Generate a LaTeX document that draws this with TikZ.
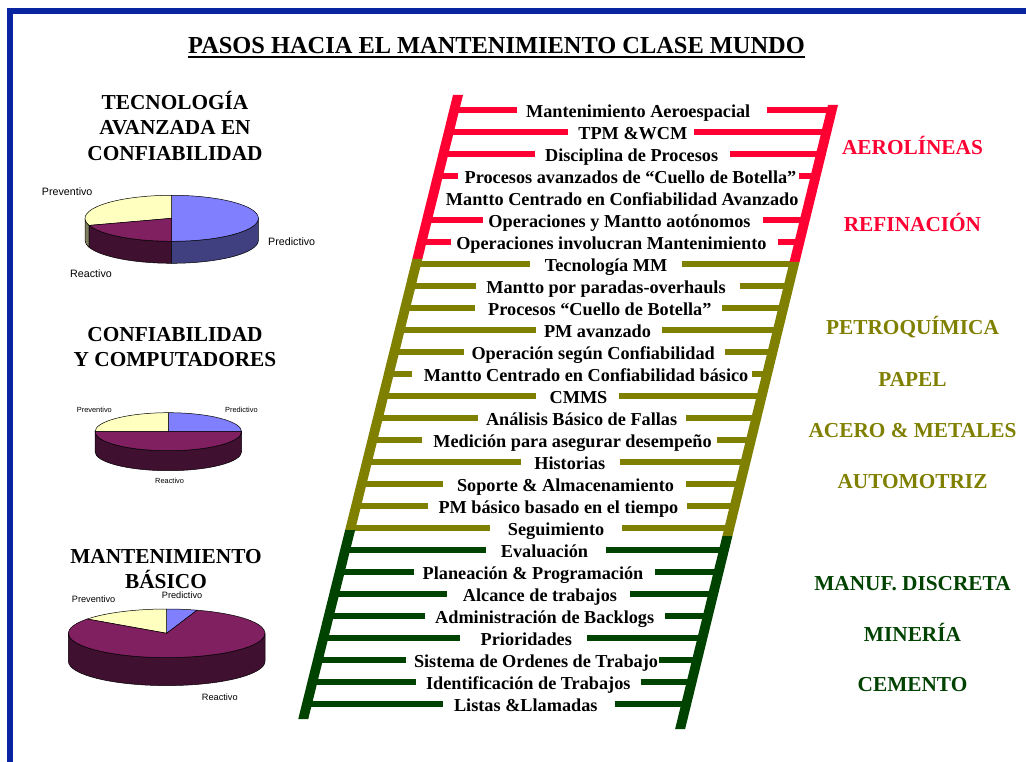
\documentclass[tikz,border=0pt]{standalone}
\usepackage{fontspec}
\setmainfont{Liberation Serif}
\newfontfamily\chartfont{Liberation Sans}

\definecolor{frameblue}{RGB}{8,36,160}
\definecolor{stepred}{RGB}{255,0,51}
\definecolor{stepolive}{RGB}{128,128,0}
\definecolor{stepgreen}{RGB}{0,66,0}
\definecolor{predtop}{RGB}{128,128,255}
\definecolor{predside}{RGB}{64,64,128}
\definecolor{reactop}{RGB}{128,32,96}
\definecolor{reacside}{RGB}{64,16,48}
\definecolor{prevtop}{RGB}{255,255,192}
\definecolor{prevside}{RGB}{128,128,96}

\tikzset{
  steplabel/.style={font=\fontsize{18.25}{20}\selectfont\bfseries, inner sep=0pt,
                    text height=15pt, text depth=0pt},
  rung/.style={line width=6.5pt},
  sector/.style={font=\fontsize{21.3}{24}\selectfont\bfseries, inner sep=0pt, anchor=base},
  heading/.style={font=\fontsize{21.3}{24}\selectfont\bfseries, inner sep=0pt, anchor=base},
  slice/.style={draw=black, line width=0.5pt, line join=round},
  pielabel/.style={inner sep=0pt, anchor=mid west},
}

% one rung label of the ladder (no rung)
\newcommand{\ladderlabel}[3]{%
  \pgfmathsetmacro{\rungy}{110+22*#1}%
  \node[steplabel] (s#1) at (#2,\rungy) {#3};%
}
% one rung: label plus the two rung pieces running out to the rails
\newcommand{\ladderstep}[6]{%
  \ladderlabel{#1}{#2}{#3}%
  \pgfmathsetmacro{\railleft}{458-0.248*(\rungy-95)}%
  \pgfmathsetmacro{\railright}{833-0.245*(\rungy-105)}%
  \coordinate (sl#1) at (\railleft,\rungy);%
  \coordinate (sr#1) at (\railright,\rungy);%
  \draw[rung,#6] (sl#1) -- ([xshift=-#4pt]s#1.west);%
  \draw[rung,#6] ([xshift=#5pt]s#1.east) -- (sr#1);%
}
% pie pieces: top sector and visible side wall
\newcommand{\pietop}[3]{%
  \filldraw[slice, fill=#3] (0,0) -- ({cos(#1)*\pierx},{sin(#1)*\piery})
    arc[start angle=#1, end angle=#2, x radius=\pierx, y radius=\piery] -- cycle;}
\newcommand{\pieside}[3]{%
  \filldraw[slice, fill=#3] ({cos(#1)*\pierx},{sin(#1)*\piery})
    arc[start angle=#1, end angle=#2, x radius=\pierx, y radius=\piery]
    -- ++(0pt,-\pied)
    arc[start angle=#2, end angle=#1, x radius=\pierx, y radius=\piery] -- cycle;}

\begin{document}
\begin{tikzpicture}[x=1pt, y=-1pt]
\useasboundingbox (0,0) rectangle (1026,762);
\fill[white] (0,0) rectangle (1026,762);

% frame
\fill[frameblue] (7.3,7.7) rectangle (1026,14);
\fill[frameblue] (7.3,7.7) rectangle (13.3,762);

% title
\node[font=\fontsize{24.4}{28}\selectfont\bfseries, inner sep=0pt, anchor=base]
  (title) at (496.5,53.3) {PASOS HACIA EL MANTENIMIENTO CLASE MUNDO};
\draw[line width=2.3pt] ([yshift=-3.9pt]title.base west) -- ([yshift=-3.9pt]title.base east);

% left headings
\node[heading] (h1a) at (175,109.5) {TECNOLOGÍA};
\node[heading] (h1b) at (175,135) {AVANZADA EN};
\node[heading] (h1c) at (175,160.5) {CONFIABILIDAD};
\node[heading] (h2a) at (175,341.7) {CONFIABILIDAD};
\node[heading] (h2b) at (175,366.7) {Y COMPUTADORES};
\node[heading] (h3a) at (166,563.3) {MANTENIMIENTO};
\node[heading] (h3b) at (166,588.3) {BÁSICO};

% pie 1
\begin{scope}[shift={(171.7,218.3)}]
  \def\pierx{86.7pt}\def\piery{23pt}\def\pied{22pt}
  \pieside{180}{198}{prevside}
  \pieside{198}{270}{reacside}
  \pieside{270}{360}{predside}
  \pietop{-90}{90}{predtop}
  \pietop{90}{198}{prevtop}
  \pietop{198}{270}{reactop}
\end{scope}
\node[pielabel, font=\chartfont\fontsize{10.7}{12}\selectfont] (p1prev) at (41.7,193) {Preventivo};
\node[pielabel, font=\chartfont\fontsize{10.7}{12}\selectfont] (p1pred) at (268,243) {Predictivo};
\node[pielabel, font=\chartfont\fontsize{10.7}{12}\selectfont] (p1reac) at (70,275) {Reactivo};

% pie 2
\begin{scope}[shift={(168.3,431.7)}]
  \def\pierx{73.3pt}\def\piery{19pt}\def\pied{20pt}
  \pieside{180}{360}{reacside}
  \pietop{0}{90}{predtop}
  \pietop{90}{180}{prevtop}
  \pietop{180}{360}{reactop}
\end{scope}
\node[pielabel, font=\chartfont\fontsize{7.4}{9}\selectfont] (p2prev) at (76.7,410) {Preventivo};
\node[pielabel, font=\chartfont\fontsize{7.4}{9}\selectfont] (p2pred) at (225,410) {Predictivo};
\node[pielabel, font=\chartfont\fontsize{7.4}{9}\selectfont] (p2reac) at (155,481.7) {Reactivo};

% pie 3
\begin{scope}[shift={(166.7,633.3)}]
  \def\pierx{98.3pt}\def\piery{24.3pt}\def\pied{28pt}
  \pieside{180}{360}{reacside}
  \pietop{72}{90}{predtop}
  \pietop{90}{144}{prevtop}
  \pietop{144}{432}{reactop}
\end{scope}
\node[pielabel, font=\chartfont\fontsize{9.2}{11}\selectfont] (p3prev) at (71.7,600) {Preventivo};
\node[pielabel, font=\chartfont\fontsize{9.2}{11}\selectfont] (p3pred) at (161.7,596.7) {Predictivo};
\node[pielabel, font=\chartfont\fontsize{9.2}{11}\selectfont] (p3reac) at (201.7,698) {Reactivo};

% ladder rungs and labels
\ladderstep{0}{638.2}{Mantenimiento Aeroespacial}{9}{16}{stepred}
\ladderstep{1}{632.9}{TPM \&WCM}{10}{6}{stepred}
\ladderstep{2}{631.6}{Disciplina de Procesos}{10}{12}{stepred}
\ladderstep{3}{630.5}{Procesos avanzados de “Cuello de Botella”}{6}{2}{stepred}
\ladderlabel{4}{622.2}{Mantto Centrado en Confiabilidad Avanzado}
\ladderstep{5}{619.5}{Operaciones y Mantto aotónomos}{5}{12.5}{stepred}
\ladderstep{6}{611.4}{Operaciones involucran Mantenimiento}{5}{11}{stepred}
\ladderstep{7}{606.1}{Tecnología MM}{15}{14}{stepolive}
\ladderstep{8}{606}{Mantto por paradas-overhauls}{10}{14}{stepolive}
\ladderstep{9}{599.8}{Procesos “Cuello de Botella”}{13}{10.6}{stepolive}
\ladderstep{10}{597.5}{PM avanzado}{8}{10.7}{stepolive}
\ladderstep{11}{593.2}{Operación según Confiabilidad}{7}{10}{stepolive}
\ladderstep{12}{586.1}{Mantto Centrado en Confiabilidad básico}{12}{3.5}{stepolive}
\ladderstep{13}{578.5}{CMMS}{13}{11}{stepolive}
\ladderstep{14}{581.6}{Análisis Básico de Fallas}{8}{9}{stepolive}
\ladderstep{15}{572.5}{Medición para asegurar desempeño}{11}{5}{stepolive}
\ladderstep{16}{569.8}{Historias}{13}{15}{stepolive}
\ladderstep{17}{565.5}{Soporte \& Almacenamiento}{13.5}{12}{stepolive}
\ladderstep{18}{558.4}{PM básico basado en el tiempo}{10.7}{8.6}{stepolive}
\ladderstep{19}{556.1}{Seguimiento}{18}{17.7}{stepolive}
\ladderstep{20}{544.5}{Evaluación}{15}{18}{stepgreen}
\ladderstep{21}{533}{Planeación \& Programación}{8}{11}{stepgreen}
\ladderstep{22}{540}{Alcance de trabajos}{16}{13}{stepgreen}
\ladderstep{23}{544.7}{Administración de Backlogs}{10}{11}{stepgreen}
\ladderstep{24}{526.3}{Prioridades}{20}{15}{stepgreen}
\ladderstep{25}{536}{Sistema de Ordenes de Trabajo}{8}{1}{stepgreen}
\ladderstep{26}{528.3}{Identificación de Trabajos}{10}{10}{stepgreen}
\ladderstep{27}{525.8}{Listas \&Llamadas}{11}{17}{stepgreen}

% ladder rails
\fill[stepred]   (453,95) -- (463,95) -- (422.33,259) -- (412.33,259) -- cycle;
\fill[stepolive] (412.33,259) -- (422.33,259) -- (355.12,530) -- (345.12,530) -- cycle;
\fill[stepgreen] (345.12,530) -- (355.12,530) -- (308.25,719) -- (298.25,719) -- cycle;
\fill[stepred]   (828,105) -- (838,105) -- (799.53,262) -- (789.53,262) -- cycle;
\fill[stepolive] (789.53,262) -- (799.53,262) -- (732.4,536) -- (722.4,536) -- cycle;
\fill[stepgreen] (722.4,536) -- (732.4,536) -- (685.12,729) -- (675.12,729) -- cycle;

% industry sectors
\node[sector, text=stepred]   (aero)  at (912.5,155)   {AEROLÍNEAS};
\node[sector, text=stepred]   (refi)  at (912.5,231.7) {REFINACIÓN};
\node[sector, text=stepolive] (petro) at (912.5,334.3) {PETROQUÍMICA};
\node[sector, text=stepolive] (papel) at (912.5,386)   {PAPEL};
\node[sector, text=stepolive] (acero) at (912.5,437.3) {ACERO \& METALES};
\node[sector, text=stepolive] (auto)  at (912.5,488.3) {AUTOMOTRIZ};
\node[sector, text=stepgreen] (manuf) at (912.5,590.7) {MANUF. DISCRETA};
\node[sector, text=stepgreen] (mine)  at (912.5,641.7) {MINERÍA};
\node[sector, text=stepgreen] (cem)   at (912.5,691.7) {CEMENTO};
\end{tikzpicture}
\end{document}
